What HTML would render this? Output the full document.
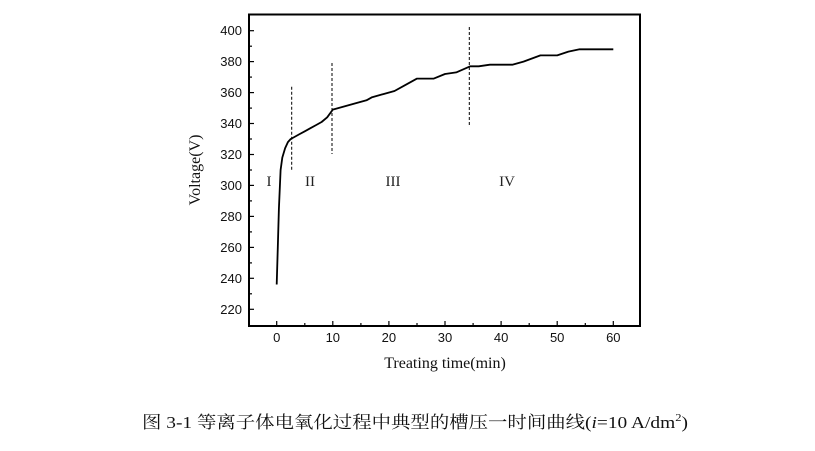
<!DOCTYPE html>
<html><head><meta charset="utf-8"><style>
html,body{margin:0;padding:0;background:#fff;}
svg{display:block;}
</style></head><body>
<svg width="815" height="451" viewBox="0 0 815 451" xmlns="http://www.w3.org/2000/svg">
<rect x="249" y="14.5" width="391" height="311.5" fill="none" stroke="#000" stroke-width="2"/>
<g stroke="#000" stroke-width="1.2">
<line x1="249" y1="309.3" x2="254" y2="309.3"/><line x1="249" y1="278.3" x2="254" y2="278.3"/>
<line x1="249" y1="247.4" x2="254" y2="247.4"/><line x1="249" y1="216.4" x2="254" y2="216.4"/>
<line x1="249" y1="185.4" x2="254" y2="185.4"/><line x1="249" y1="154.5" x2="254" y2="154.5"/>
<line x1="249" y1="123.5" x2="254" y2="123.5"/><line x1="249" y1="92.6" x2="254" y2="92.6"/>
<line x1="249" y1="61.6" x2="254" y2="61.6"/><line x1="249" y1="30.7" x2="254" y2="30.7"/>
<line x1="249" y1="293.8" x2="252" y2="293.8"/><line x1="249" y1="262.9" x2="252" y2="262.9"/>
<line x1="249" y1="231.9" x2="252" y2="231.9"/><line x1="249" y1="200.9" x2="252" y2="200.9"/>
<line x1="249" y1="170" x2="252" y2="170"/><line x1="249" y1="139" x2="252" y2="139"/>
<line x1="249" y1="108.1" x2="252" y2="108.1"/><line x1="249" y1="77.1" x2="252" y2="77.1"/>
<line x1="249" y1="46.2" x2="252" y2="46.2"/>
<line x1="276.7" y1="326" x2="276.7" y2="321"/><line x1="332.8" y1="326" x2="332.8" y2="321"/>
<line x1="388.9" y1="326" x2="388.9" y2="321"/><line x1="445" y1="326" x2="445" y2="321"/>
<line x1="501.1" y1="326" x2="501.1" y2="321"/><line x1="557.2" y1="326" x2="557.2" y2="321"/>
<line x1="613.3" y1="326" x2="613.3" y2="321"/>
<line x1="304.8" y1="326" x2="304.8" y2="323"/><line x1="360.9" y1="326" x2="360.9" y2="323"/>
<line x1="417" y1="326" x2="417" y2="323"/><line x1="473.1" y1="326" x2="473.1" y2="323"/>
<line x1="529.2" y1="326" x2="529.2" y2="323"/><line x1="585.3" y1="326" x2="585.3" y2="323"/>
</g>
<g font-family="Liberation Sans, sans-serif" font-size="13" fill="#111" text-anchor="end">
<text x="242" y="314">220</text><text x="242" y="283">240</text><text x="242" y="252">260</text>
<text x="242" y="221">280</text><text x="242" y="190">300</text><text x="242" y="159">320</text>
<text x="242" y="128">340</text><text x="242" y="97">360</text><text x="242" y="66">380</text>
<text x="242" y="35">400</text>
</g>
<g font-family="Liberation Sans, sans-serif" font-size="13" fill="#111" text-anchor="middle">
<text x="276.7" y="342">0</text><text x="332.8" y="342">10</text><text x="388.9" y="342">20</text>
<text x="445" y="342">30</text><text x="501.1" y="342">40</text><text x="557.2" y="342">50</text>
<text x="613.3" y="342">60</text>
</g>
<text x="445" y="368" font-family="Liberation Serif, serif" font-size="16" text-anchor="middle" fill="#111">Treating time(min)</text>
<text transform="translate(200,170) rotate(-90)" font-family="Liberation Serif, serif" font-size="16" text-anchor="middle" fill="#111">Voltage(V)</text>
<g font-family="Liberation Serif, serif" font-size="15" fill="#222" text-anchor="middle">
<text x="269" y="186">I</text><text x="310" y="186">II</text><text x="393" y="186">III</text><text x="507" y="186">IV</text>
</g>
<g stroke="#000" stroke-width="1" stroke-dasharray="3,2">
<line x1="291.7" y1="86.7" x2="291.7" y2="170"/>
<line x1="332" y1="63" x2="332" y2="154"/>
<line x1="469.3" y1="27" x2="469.3" y2="127"/>
</g>
<polyline fill="none" stroke="#000" stroke-width="1.8" stroke-linejoin="round" points="276.7,284.5 277.8,247.4 278.9,208.7 280.6,170 282.3,157.6 285.1,148.3 287.9,142.1 290.7,139 293.5,137.5 299.1,134.4 304.8,131.3 310.4,128.2 316,125.1 321.6,122 327.2,117.3 332.8,109.6 344,106.5 355.2,103.4 366.5,100.3 372.1,97.2 383.3,94.1 394.5,91 405.7,84.8 417,78.6 433.8,78.6 445,74 456.2,72.4 470.2,66.3 478.7,66.3 489.9,64.7 512.3,64.7 523.5,61.6 540.4,55.4 557.2,55.4 568.4,51.6 579.6,49.3 613.3,49.3"/>
<text x="142" y="428" font-family="Liberation Serif, 'Noto Serif CJK SC', serif" font-size="17" fill="#111" textLength="546" lengthAdjust="spacingAndGlyphs">图  3-1 等离子体电氧化过程中典型的槽压一时间曲线(<tspan font-style="italic">i</tspan>=10 A/dm<tspan font-size="11" dy="-7">2</tspan><tspan dy="7">)</tspan></text>
</svg>
</body></html>
